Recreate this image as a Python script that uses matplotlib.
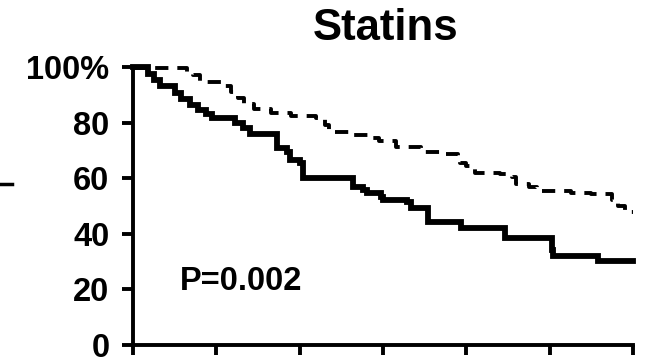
import matplotlib
matplotlib.use("Agg")
import matplotlib.pyplot as plt
from matplotlib.lines import Line2D

# Kaplan-Meier style step curves (time in axis units 0..6, survival in %)
solid_t = [0, 0.18, 0.25, 0.32, 0.50, 0.58, 0.68, 0.78, 0.88, 0.95, 1.22, 1.32, 1.40,
           1.73, 1.85, 1.88, 2.00, 2.04, 2.64, 2.76, 2.81, 2.97, 3.00, 3.29, 3.33,
           3.54, 3.93, 4.47, 5.03, 5.04, 5.58, 6.0]
solid_s = [100, 97.5, 95.5, 93.0, 90.5, 88.5, 86.5, 84.5, 83.0, 81.8, 80.0, 78.0, 76.0,
           71.0, 69.4, 66.5, 65.5, 60.0, 56.8, 55.8, 54.7, 53.2, 52.2, 51.4, 49.3,
           44.2, 42.0, 38.5, 34.2, 32.0, 30.2, 30.2]

dash_t = [0, 0.65, 0.72, 0.80, 1.10, 1.18, 1.26, 1.33, 1.45, 1.65, 1.90, 2.20, 2.30, 2.35,
          2.65, 2.85, 2.95, 3.15, 3.45, 3.70, 3.90, 3.92, 4.00, 4.10, 4.40, 4.55, 4.60,
          4.75, 4.85, 5.25, 5.50, 5.75, 5.82, 5.90, 6.0]
dash_s = [99.5, 98.0, 97.0, 94.6, 93.0, 91.0, 88.8, 86.7, 85.0, 83.5, 82.5, 81.5, 79.0, 76.5,
          75.5, 74.5, 73.5, 71.2, 69.5, 68.7, 67.5, 65.5, 64.3, 62.0, 61.5, 60.5, 58.0,
          57.0, 55.3, 54.7, 54.2, 52.0, 50.0, 48.0, 48.0]

y_ticks = [0, 20, 40, 60, 80, 100]
y_labels = ["0", "20", "40", "60", "80", "100%"]
x_ticks = [0, 1, 2, 3, 4, 5, 6]

plt.rcParams['font.family'] = ['Liberation Sans', 'DejaVu Sans']
plt.rcParams['font.weight'] = 'bold'

fig = plt.figure(figsize=(6.46, 3.59), dpi=100)
ax = fig.add_axes([133 / 646, 1 - 345 / 359, 500 / 646, 278 / 359])

ax.step(solid_t, solid_s, where='post', color='black', lw=4.2, solid_joinstyle='miter', clip_on=False)
ax.step(dash_t, dash_s, where='post', color='black', lw=2.8, linestyle=(0, (3.4, 2.3)), clip_on=False)

ax.set_xlim(0, 6)
ax.set_ylim(0, 100)
ax.set_xticks(x_ticks)
ax.set_xticklabels([])
ax.set_yticks(y_ticks)
ax.set_yticklabels(y_labels, fontsize=23.5, fontweight='bold')

for side in ['top', 'right']:
    ax.spines[side].set_visible(False)
for side in ['left', 'bottom']:
    ax.spines[side].set_linewidth(2.8)
    ax.spines[side].set_capstyle('projecting')
ax.tick_params(axis='y', length=8, width=2.8, pad=9)
ax.tick_params(axis='x', length=7, width=2.8)

ax.text(0.56, 22.7, "P=0.002", fontsize=23.5, fontweight='bold', va='center', ha='left')
fig.text(386 / 646, 1 - 28 / 359, "Statins", fontsize=31.5, fontweight='bold', ha='center', va='center')

# fragment of neighbouring panel at the left edge
fig.add_artist(Line2D([0, 12 / 646], [1 - 184 / 359, 1 - 184 / 359], color='black', lw=2.5,
                      transform=fig.transFigure))

fig.savefig("out.png", dpi=100)
